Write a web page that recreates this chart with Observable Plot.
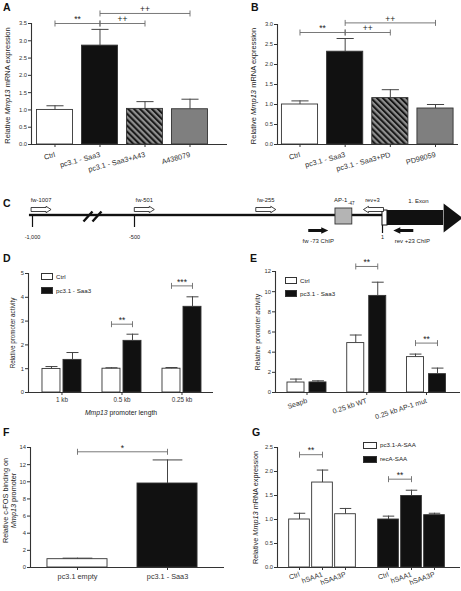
<!DOCTYPE html>
<html><head><meta charset="utf-8">
<script src="https://cdn.jsdelivr.net/npm/d3@7"></script>
<script src="https://cdn.jsdelivr.net/npm/@observablehq/plot@0.6"></script>
<style>
body{margin:0;background:#fff;}
#fig{position:relative;width:461px;height:591px;overflow:hidden;background:#fff;font-family:"Liberation Sans",Arial,Helvetica,sans-serif;color:#222;}
.panel{position:absolute;}
.letter{position:absolute;font-weight:bold;font-size:10.5px;line-height:10.5px;color:#111;z-index:5;}
.legend{position:absolute;font-size:6.2px;line-height:6px;z-index:5;color:#222;}
.legend .item{position:absolute;left:0;display:flex;align-items:center;white-space:nowrap;}
.legend .sw{display:inline-block;border:1px solid #333;box-sizing:border-box;margin-right:3px;}
</style></head><body>
<svg width="0" height="0" style="position:absolute">
  <defs>
    <pattern id="hatch" patternUnits="userSpaceOnUse" width="4.2" height="4.2" patternTransform="rotate(-45)">
      <rect width="4.2" height="4.2" fill="#8e8e8e"></rect>
      <rect width="2" height="4.2" fill="#161616"></rect>
    </pattern>
  </defs>
</svg>
<div id="fig"></div>
<script>
// ---------------- DATA ----------------
// Panel A
const aLabels = ["Ctrl", "pc3.1 - Saa3", "pc3.1 - Saa3+A43", "A438079"];
const aMeans = [1.0, 2.86, 1.03, 1.02];
const aErrs = [0.12, 0.47, 0.21, 0.29];
const aBrackets = [
  {from: "Ctrl", to: "pc3.1 - Saa3", level: 3.5, text: "**"},
  {from: "pc3.1 - Saa3", to: "pc3.1 - Saa3+A43", level: 3.5, text: "++"},
  {from: "pc3.1 - Saa3", to: "A438079", level: 3.79, text: "++"}
];
// Panel B
const bLabels = ["Ctrl", "pc3.1 - Saa3", "pc3.1 - Saa3+PD", "PD98059"];
const bMeans = [1.0, 2.32, 1.16, 0.9];
const bErrs = [0.09, 0.33, 0.21, 0.1];
const bBrackets = [
  {from: "Ctrl", to: "pc3.1 - Saa3", level: 2.8, text: "**"},
  {from: "pc3.1 - Saa3", to: "pc3.1 - Saa3+PD", level: 2.8, text: "++"},
  {from: "pc3.1 - Saa3", to: "PD98059", level: 3.04, text: "++"}
];
// Panel C (promoter map; mapX = drawn map position in bp)
const cLine = {start: -1015, end: 1};
const cBreak = {pos: -706};
const cScaleTicks = [{pos: -1000, label: "-1,000"}, {pos: -500, label: "-500"}];
const cTss = {pos: 1, label: "1"};
const cOpenPrimers = [
  {name: "fw-1007", mapX: -1007, dir: "fw"},
  {name: "fw-501", mapX: -501, dir: "fw"},
  {name: "fw-255", mapX: -255, dir: "fw"},
  {name: "rev+3", mapX: 3, dir: "rev"}
];
const cChipPrimers = [
  {name: "fw -73 ChIP", mapX: -149, dir: "fw"},
  {name: "rev +23 ChIP", mapX: 63, dir: "rev"}
];
const cAp1 = {name: "AP-1", site: "-47", start: -94, end: -60};
const cExon = {name: "1. Exon", start: 1, utrEnd: 11, headStart: 124, end: 158};
// Panel D
const dGroups = ["1 kb", "0.5 kb", "0.25 kb"];
const dSeries = ["Ctrl", "pc3.1 - Saa3"];
const dCtrlMeans = [0.99, 1.0, 1.0];
const dCtrlErrs = [0.1, 0.04, 0.05];
const dSaa3Means = [1.37, 2.17, 3.6];
const dSaa3Errs = [0.31, 0.28, 0.42];
const dBrackets = [{group: "0.5 kb", level: 2.87, text: "**"}, {group: "0.25 kb", level: 4.48, text: "***"}];
// Panel E
const eGroups = ["Seapb", "0.25 kb WT", "0.25 kb AP-1 mut"];
const eSeries = ["Ctrl", "pc3.1 - Saa3"];
const eCtrlMeans = [0.99, 4.9, 3.51];
const eCtrlErrs = [0.34, 0.8, 0.3];
const eSaa3Means = [1.0, 9.58, 1.82];
const eSaa3Errs = [0.16, 1.36, 0.6];
const eBrackets = [{group: "0.25 kb WT", level: 12.5, text: "**"}, {group: "0.25 kb AP-1 mut", level: 4.9, text: "**"}];
// Panel F
const fLabels = ["pc3.1 empty", "pc3.1 - Saa3"];
const fMeans = [0.97, 9.8];
const fErrs = [0.12, 2.75];
const fBrackets = [{from: "pc3.1 empty", to: "pc3.1 - Saa3", level: 13.5, text: "*"}];
// Panel G
const gGroups = ["pc3.1-A-SAA", "recA-SAA"];
const gConds = ["Ctrl", "hSAA1", "hSAA3P"];
const gPcMeans = [1.0, 1.77, 1.11];
const gPcErrs = [0.13, 0.26, 0.12];
const gRecMeans = [1.0, 1.49, 1.09];
const gRecErrs = [0.07, 0.12, 0.04];
const gBrackets = [
  {group: "pc3.1-A-SAA", from: "Ctrl", to: "hSAA1", level: 2.35, text: "**"},
  {group: "recA-SAA", from: "Ctrl", to: "hSAA1", level: 1.84, text: "**"}
];

// ---------------- STYLE ----------------
const FONT = '"Liberation Sans", Arial, Helvetica, sans-serif';
const INK = "#222", AX = "#333", ERR = "#444", BR = "#6a6a6a";
const WHITE = "#ffffff", BLACK = "#111111", GREY = "#7f7f7f", HATCH = "url(#hatch)";
const fig = document.getElementById("fig");
const style = {background: "transparent", fontFamily: FONT, color: INK, overflow: "visible"};

const vTick = {draw(c) { c.moveTo(0, -3); c.lineTo(0, 3); }};

function italicize(root, word = "Mmp13") {
  const w = document.createTreeWalker(root, NodeFilter.SHOW_TEXT);
  const nodes = [];
  while (w.nextNode()) if (w.currentNode.nodeValue.includes(word)) nodes.push(w.currentNode);
  for (const n of nodes) {
    const parts = n.nodeValue.split(word);
    const frag = document.createDocumentFragment();
    parts.forEach((p, i) => {
      if (i) {
        const t = document.createElementNS("http://www.w3.org/2000/svg", "tspan");
        t.setAttribute("font-style", "italic");
        t.textContent = word;
        frag.appendChild(t);
      }
      if (p) frag.appendChild(document.createTextNode(p));
    });
    n.parentNode.replaceChild(frag, n);
  }
}

function place(node, left, top) {
  const wrap = document.createElement("div");
  wrap.className = "panel";
  wrap.style.left = left + "px";
  wrap.style.top = top + "px";
  wrap.appendChild(node);
  fig.appendChild(wrap);
  italicize(node);
}

function letter(txt, left, top) {
  const d = document.createElement("div");
  d.className = "letter"; d.textContent = txt;
  d.style.left = left + "px"; d.style.top = top + "px";
  fig.appendChild(d);
}

function legend(items, left, top, pitch, sw) {
  const L = document.createElement("div");
  L.className = "legend"; L.style.left = left + "px"; L.style.top = top + "px";
  items.forEach((it, i) => {
    const row = document.createElement("div");
    row.className = "item"; row.style.top = (i * pitch) + "px"; row.style.height = sw[1] + "px";
    const s = document.createElement("span");
    s.className = "sw"; s.style.width = sw[0] + "px"; s.style.height = sw[1] + "px"; s.style.background = it.fill;
    row.appendChild(s);
    row.appendChild(document.createTextNode(it.label));
    L.appendChild(row);
  });
  fig.appendChild(L);
}

function barPanel(o) {
  const ends = o.brackets.flatMap(b => [{x: b.x1, y: b.level}, {x: b.x2, y: b.level}]);
  const tickLabel = new Map(o.ticks.map(t => [t.x, t.label]));
  const marks = [
    Plot.rect(o.bars, {x1: d => d.x - o.bw / 2, x2: d => d.x + o.bw / 2, y1: 0, y2: "mean", fill: "fill", stroke: AX, strokeWidth: 0.9}),
    Plot.ruleX(o.bars, {x: "x", y1: "mean", y2: d => d.mean + d.err, stroke: ERR, strokeWidth: 1}),
    Plot.link(o.bars, {x1: d => d.x - o.cw / 2, x2: d => d.x + o.cw / 2, y1: d => d.mean + d.err, y2: d => d.mean + d.err, stroke: ERR, strokeWidth: 1}),
    Plot.ruleY([0], {stroke: AX, strokeWidth: 1.1}),
    Plot.ruleX([o.xDomain[0]], {stroke: AX, strokeWidth: 1.1}),
    Plot.axisY({ticks: o.yTicks, tickFormat: o.yFormat, tickSize: 3, tickPadding: 1.5, fontSize: 5.8, color: AX, label: null}),
    Plot.axisX({ticks: o.ticks.map(t => t.x), tickFormat: v => tickLabel.get(v), tickSize: 3, tickPadding: o.xPad ?? 2,
      tickRotate: o.rotate, fontSize: o.xFont, color: AX, label: null}),
    Plot.text([o.yLabel], {frameAnchor: "left", textAnchor: "middle", rotate: -90, dx: o.yLabelDx, dy: o.yLabelDy ?? 0, fontSize: o.yLabelFont, lineHeight: 1.15, fill: INK}),
    Plot.link(o.brackets, {x1: "x1", x2: "x2", y1: "level", y2: "level", stroke: BR, strokeWidth: 0.9}),
    Plot.dot(ends, {x: "x", y: "y", symbol: vTick, stroke: BR, strokeWidth: 0.9, fill: "none"}),
    Plot.text(o.brackets, {x: d => (d.x1 + d.x2) / 2, y: "level", text: "text", dy: -4, fontSize: 8.5, fill: INK})
  ];
  if (o.xLabel) marks.push(Plot.text([o.xLabel], {frameAnchor: "bottom", dy: o.xLabelDy, fontSize: o.xLabelFont, fill: INK}));
  return Plot.plot({
    width: o.width, height: o.height,
    marginLeft: o.ml, marginRight: o.mr, marginTop: o.mt, marginBottom: o.mb,
    style,
    x: {domain: o.xDomain, axis: null},
    y: {domain: o.yDomain, axis: null},
    color: {type: "identity"},
    marks
  });
}

const fmt1 = d3.format(".1f");

// ---------- A ----------
const aFills = [WHITE, BLACK, HATCH, GREY];
place(barPanel({
  width: 230, height: 200, ml: 31, mr: 3, mt: 23, mb: 56,
  xDomain: [-0.522, 3.833], yDomain: [0, 3.5], yTicks: d3.range(0, 3.51, 0.5), yFormat: fmt1,
  bars: aLabels.map((l, i) => ({x: i, mean: aMeans[i], err: aErrs[i], fill: aFills[i]})),
  ticks: aLabels.map((l, i) => ({x: i, label: l})),
  brackets: aBrackets.map(b => ({x1: aLabels.indexOf(b.from), x2: aLabels.indexOf(b.to), level: b.level, text: b.text})),
  bw: 0.8, cw: 0.38, rotate: -15, xFont: 7.3, xPad: 7,
  yLabel: "Relative Mmp13 mRNA expression", yLabelDx: -24, yLabelDy: 1.5, yLabelFont: 7.5
}), 0, 0);

// ---------- B ----------
const bFills = [WHITE, BLACK, HATCH, GREY];
place(barPanel({
  width: 231, height: 200, ml: 47, mr: 3, mt: 24, mb: 56,
  xDomain: [-0.498, 3.509], yDomain: [0, 3.0], yTicks: d3.range(0, 3.01, 0.5), yFormat: fmt1,
  bars: bLabels.map((l, i) => ({x: i, mean: bMeans[i], err: bErrs[i], fill: bFills[i]})),
  ticks: bLabels.map((l, i) => ({x: i, label: l})),
  brackets: bBrackets.map(b => ({x1: bLabels.indexOf(b.from), x2: bLabels.indexOf(b.to), level: b.level, text: b.text})),
  bw: 0.8, cw: 0.38, rotate: -15, xFont: 7.3, xPad: 7,
  yLabel: "Relative Mmp13 mRNA expression", yLabelDx: -24, yLabelDy: 1.5, yLabelFont: 7.5
}), 230, 0);

// ---------- C ----------
const openR = {draw(c) { c.moveTo(0, -2); c.lineTo(15, -2); c.lineTo(15, -3.2); c.lineTo(20, 0); c.lineTo(15, 3.2); c.lineTo(15, 2); c.lineTo(0, 2); c.closePath(); }};
const openL = {draw(c) { c.moveTo(0, -2); c.lineTo(-15, -2); c.lineTo(-15, -3.2); c.lineTo(-20, 0); c.lineTo(-15, 3.2); c.lineTo(-15, 2); c.lineTo(0, 2); c.closePath(); }};
const chipR = {draw(c) { c.moveTo(0, -1.4); c.lineTo(13, -1.4); c.lineTo(13, -3.2); c.lineTo(20, 0); c.lineTo(13, 3.2); c.lineTo(13, 1.4); c.lineTo(0, 1.4); c.closePath(); }};
const chipL = {draw(c) { c.moveTo(0, -1.4); c.lineTo(-13, -1.4); c.lineTo(-13, -3.2); c.lineTo(-20, 0); c.lineTo(-13, 3.2); c.lineTo(-13, 1.4); c.lineTo(0, 1.4); c.closePath(); }};
const headSym = {draw(c) { c.moveTo(0, -14.5); c.lineTo(19, 0); c.lineTo(0, 14.5); c.closePath(); }};
const breakSym = {draw(c) { c.moveTo(-9, 5); c.lineTo(0, -5); c.moveTo(0, 5); c.lineTo(9, -5); }};
const fwOpen = cOpenPrimers.filter(d => d.dir === "fw"), revOpen = cOpenPrimers.filter(d => d.dir === "rev");
const fwChip = cChipPrimers.filter(d => d.dir === "fw"), revChip = cChipPrimers.filter(d => d.dir === "rev");
const midAp1 = d => (d.start + d.end) / 2;
// map is drawn with a compressed segment before -500 (broken axis)
const cBroken = d3.scaleLinear().domain([-1000, -500, 1, 158]).range([32, 134, 382, 460]);
place(Plot.plot({
  width: 461, height: 60, marginTop: 0, marginLeft: 0, marginRight: 0, marginBottom: 10,
  style,
  x: {transform: cBroken, domain: [0, 461], axis: null},
  marks: [
    Plot.rect([cLine], {x1: "start", x2: "end", fill: BLACK, insetTop: 23.8, insetBottom: 23.8}),
    Plot.dot([cBreak], {x: "pos", symbol: breakSym, stroke: BLACK, strokeWidth: 2.4, fill: "none", frameAnchor: "middle", dy: 1}),
    Plot.ruleX(cScaleTicks, {x: "pos", stroke: BLACK, strokeWidth: 1.2, insetTop: 25, insetBottom: 13}),
    Plot.ruleX([cTss], {x: "pos", stroke: BLACK, strokeWidth: 1.2, insetTop: 19, insetBottom: 7}),
    Plot.text([...cScaleTicks, cTss], {x: "pos", text: "label", frameAnchor: "middle", dy: 21.5, fontSize: 5.5, fill: INK}),
    Plot.rect([cAp1], {x1: "start", x2: "end", fill: "#b4b4b4", stroke: AX, strokeWidth: 0.9, insetTop: 18, insetBottom: 16}),
    Plot.text([cAp1], {x: midAp1, text: "name", textAnchor: "end", dx: 3.5, frameAnchor: "middle", dy: -15, fontSize: 6, fill: INK}),
    Plot.text([cAp1], {x: midAp1, text: "site", textAnchor: "start", dx: 4, frameAnchor: "middle", dy: -12, fontSize: 4.5, fill: INK}),
    Plot.rect([cExon], {x1: "start", x2: "utrEnd", fill: WHITE, stroke: BLACK, strokeWidth: 1, insetTop: 20, insetBottom: 15}),
    Plot.rect([cExon], {x1: "utrEnd", x2: "headStart", fill: BLACK, insetTop: 20, insetBottom: 15}),
    Plot.dot([cExon], {x: "headStart", symbol: headSym, fill: BLACK, stroke: "none", frameAnchor: "middle", dy: 2.5}),
    Plot.text([cExon], {x: d => (d.start + d.end) / 2, text: "name", dx: -3, frameAnchor: "middle", dy: -14.5, fontSize: 6, fill: INK}),
    Plot.dot(fwOpen, {x: "mapX", symbol: openR, fill: WHITE, stroke: BLACK, strokeWidth: 0.8, frameAnchor: "middle", dy: -6}),
    Plot.dot(revOpen, {x: "mapX", symbol: openL, fill: WHITE, stroke: BLACK, strokeWidth: 0.8, frameAnchor: "middle", dy: -6}),
    Plot.text(fwOpen, {x: "mapX", text: "name", dx: 10, frameAnchor: "middle", dy: -15.5, fontSize: 5.8, fill: INK}),
    Plot.text(revOpen, {x: "mapX", text: "name", dx: -11, frameAnchor: "middle", dy: -15.5, fontSize: 5.8, fill: INK}),
    Plot.dot(fwChip, {x: "mapX", symbol: chipR, fill: BLACK, stroke: "none", frameAnchor: "middle", dy: 15}),
    Plot.dot(revChip, {x: "mapX", symbol: chipL, fill: BLACK, stroke: "none", frameAnchor: "middle", dy: 15}),
    Plot.text(fwChip, {x: "mapX", text: "name", dx: 10, frameAnchor: "middle", dy: 26, fontSize: 6, fill: INK}),
    Plot.text(revChip, {x: "mapX", text: "name", dx: -1, frameAnchor: "middle", dy: 26, fontSize: 6, fill: INK})
  ]
}), 0, 190);

// ---------- D ----------
const D_OFF = 0.175, D_BW = 0.3;
const seriesFill = [WHITE, BLACK];
const dBars = dGroups.flatMap((g, i) => [
  {x: i - D_OFF, mean: dCtrlMeans[i], err: dCtrlErrs[i], fill: seriesFill[0]},
  {x: i + D_OFF, mean: dSaa3Means[i], err: dSaa3Errs[i], fill: seriesFill[1]}
]);
place(barPanel({
  width: 230, height: 160, ml: 28, mr: 17, mt: 11, mb: 30,
  xDomain: [-0.558, 2.525], yDomain: [0, 5], yTicks: d3.range(0, 6), yFormat: d3.format("d"),
  bars: dBars,
  ticks: dGroups.map((g, i) => ({x: i, label: g})),
  brackets: dBrackets.map(b => { const i = dGroups.indexOf(b.group); return {x1: i - D_OFF, x2: i + D_OFF, level: b.level, text: b.text}; }),
  bw: D_BW, cw: 0.2, rotate: 0, xFont: 6.3,
  xLabel: "Mmp13 promoter length", xLabelDy: 22, xLabelFont: 6.8,
  yLabel: "Relative promoter activity", yLabelDx: -16, yLabelFont: 6.3
}), 0, 262);
legend(dSeries.map((s, i) => ({label: s, fill: seriesFill[i]})), 41, 273, 14, [12, 7]);

// ---------- E ----------
const E_OFF = 0.184, E_BW = 0.285;
const eBars = eGroups.flatMap((g, i) => [
  {x: i - E_OFF, mean: eCtrlMeans[i], err: eCtrlErrs[i], fill: seriesFill[0]},
  {x: i + E_OFF, mean: eSaa3Means[i], err: eSaa3Errs[i], fill: seriesFill[1]}
]);
place(barPanel({
  width: 231, height: 190, ml: 45, mr: 1, mt: 21, mb: 48,
  xDomain: [-0.527, 2.569], yDomain: [0, 12], yTicks: d3.range(0, 13, 2), yFormat: d3.format("d"),
  bars: eBars,
  ticks: eGroups.map((g, i) => ({x: i, label: g})),
  brackets: eBrackets.map(b => { const i = eGroups.indexOf(b.group); return {x1: i - E_OFF, x2: i + E_OFF, level: b.level, text: b.text}; }),
  bw: E_BW, cw: 0.2, rotate: -18, xFont: 7, xPad: 5,
  yLabel: "Relative promoter activity", yLabelDx: -18, yLabelFont: 6.8
}), 230, 250);
legend(eSeries.map((s, i) => ({label: s, fill: seriesFill[i]})), 285, 277, 13, [12, 7]);

// ---------- F ----------
const fFills = [WHITE, BLACK];
place(barPanel({
  width: 230, height: 159, ml: 30, mr: 6, mt: 15, mb: 24,
  xDomain: [-0.522, 1.633], yDomain: [0, 14], yTicks: d3.range(0, 15, 2), yFormat: d3.format("d"),
  bars: fLabels.map((l, i) => ({x: i, mean: fMeans[i], err: fErrs[i], fill: fFills[i]})),
  ticks: fLabels.map((l, i) => ({x: i, label: l})),
  brackets: fBrackets.map(b => ({x1: fLabels.indexOf(b.from), x2: fLabels.indexOf(b.to), level: b.level, text: b.text})),
  bw: 0.667, cw: 0.33, rotate: 0, xFont: 7.3, xPad: 3,
  yLabel: "Relative c-FOS binding on\nMmp13 promoter", yLabelDx: -21, yLabelDy: -7, yLabelFont: 7.3
}), 0, 432);

// ---------- G ----------
const G_GROUP_STEP = 3.87, G_BW = 0.9;
const gMeans = [gPcMeans, gRecMeans], gErrs = [gPcErrs, gRecErrs];
const gBars = gGroups.flatMap((g, gi) => gConds.map((c, ci) => ({x: gi * G_GROUP_STEP + ci, mean: gMeans[gi][ci], err: gErrs[gi][ci], fill: seriesFill[gi]})));
place(barPanel({
  width: 231, height: 159, ml: 47, mr: 1, mt: 15, mb: 24,
  xDomain: [-0.957, 7.0], yDomain: [0, 2.5], yTicks: d3.range(0, 2.51, 0.5), yFormat: fmt1,
  bars: gBars,
  ticks: gGroups.flatMap((g, gi) => gConds.map((c, ci) => ({x: gi * G_GROUP_STEP + ci, label: c}))),
  brackets: gBrackets.map(b => { const gi = gGroups.indexOf(b.group); return {x1: gi * G_GROUP_STEP + gConds.indexOf(b.from), x2: gi * G_GROUP_STEP + gConds.indexOf(b.to), level: b.level, text: b.text}; }),
  bw: G_BW, cw: 0.5, rotate: -20, xFont: 7, xPad: 3.5,
  yLabel: "Relative Mmp13 mRNA expression", yLabelDx: -22, yLabelFont: 7.3
}), 230, 432);
legend(gGroups.map((g, i) => ({label: g, fill: seriesFill[i]})), 363, 442, 14, [14, 6.5]);

// ---------- panel letters ----------
[["A", 3, 1.7], ["B", 251, 1.7], ["C", 3, 197.7], ["D", 3, 252.7], ["E", 250, 252.7], ["F", 3, 426.7], ["G", 252, 426.7]]
  .forEach(([t, l, tp]) => letter(t, l, tp));
</script>
</body></html>
